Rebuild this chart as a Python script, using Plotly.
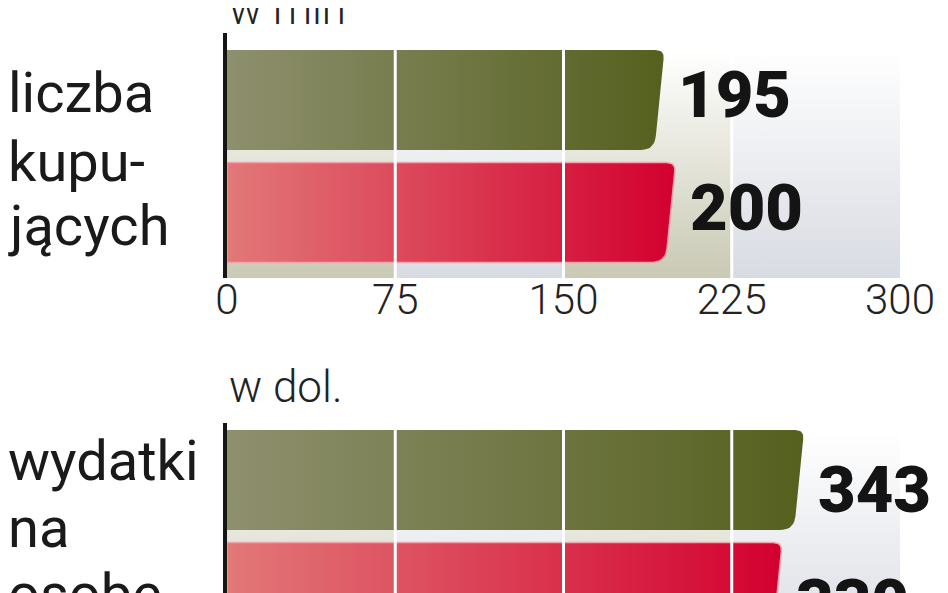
import numpy as np
import plotly.graph_objects as go

# data
top_ticks = [0, 75, 150, 225, 300]
top_values = [195, 200]
top_unit = "w mln"
top_label = ["liczba", "kupu-", "jących"]

bot_ticks = [0, 100, 200, 300, 400]
bot_values = [343, 330]
bot_unit = "w dol."
bot_label = ["wydatki", "na", "osobę"]

olive = ["#8e906e", "#55601e"]
red = ["#e27878", "#d3002f"]
band_cols = ["#c9c9b4", "#d8dbe2"]

# the page body adds an 8px margin, so the figure is that much smaller
OFF = 8
W, H = 948 - OFF, 593 - OFF
PX0, PX1 = 227, 900          # pixel extent of the value axis (screen pixels)
SY = 112.5                   # pixels per y unit
HALF = 0.444                 # half bar thickness (y units)
BG_TOP, BG_BOT = 1 + HALF, -0.582

THIN = "Roboto"
BOLD = "Roboto"


def xpaper(px):
    return (px - OFF) / W


def ypaper(px):
    return 1 - (px - OFF) / H


def rounded_bar(v, yc, sx, slant=10, r_top=9, r_bot=14):
    top = (yc + HALF) * SY
    bot = (yc - HALF) * SY
    P = [np.array([0.0, bot]), np.array([0.0, top]),
         np.array([v * sx, top]), np.array([v * sx - slant, bot])]
    radii = [0, 0, r_top, r_bot]
    out = []
    for i, p in enumerate(P):
        r = radii[i]
        if r == 0:
            out.append(p)
            continue
        a, b = P[i - 1], P[(i + 1) % 4]
        pa = p + r * (a - p) / np.linalg.norm(a - p)
        pb = p + r * (b - p) / np.linalg.norm(b - p)
        for t in np.linspace(0, 1, 10):
            out.append((1 - t) ** 2 * pa + 2 * (1 - t) * t * p + t ** 2 * pb)
    out.append(out[0])
    out = np.array(out)
    return out[:, 0] / sx, out[:, 1] / SY


fig = go.Figure()


def panel(ticks, values, xa, ya):
    sx = (PX1 - PX0) / ticks[-1]
    # background bands
    for i in range(len(ticks) - 1):
        fig.add_trace(go.Scatter(
            x=[ticks[i], ticks[i + 1], ticks[i + 1], ticks[i], ticks[i]],
            y=[BG_BOT, BG_BOT, BG_TOP, BG_TOP, BG_BOT],
            fill="toself", mode="lines", line=dict(width=0),
            fillgradient=dict(type="vertical", start=BG_BOT, stop=BG_TOP,
                              colorscale=[[0, band_cols[i % 2]], [1, "#ffffff"]]),
            xaxis=xa, yaxis=ya, hoverinfo="skip", showlegend=False))
    # bars
    for k, v in enumerate(values):
        yc = 1 - k
        bx, by = rounded_bar(v, yc, sx)
        cols = olive if k == 0 else red
        fig.add_trace(go.Scatter(
            x=bx, y=by, fill="toself", mode="lines",
            line=dict(width=1.5 if k else 0, color="#f3a3ab"),
            fillgradient=dict(type="horizontal", start=0, stop=v,
                              colorscale=[[0, cols[0]], [1, cols[1]]]),
            xaxis=xa, yaxis=ya, hoverinfo="skip", showlegend=False))
    # white grid lines over the bars
    gx, gy = [], []
    for t in ticks[1:-1]:
        gx += [t, t, None]
        gy += [BG_BOT, BG_TOP, None]
    fig.add_trace(go.Scatter(x=gx, y=gy, mode="lines",
                             line=dict(color="#ffffff", width=3),
                             xaxis=xa, yaxis=ya, hoverinfo="skip", showlegend=False))


panel(top_ticks, top_values, "x", "y")
panel(bot_ticks, bot_values, "x2", "y2")

xdom = [xpaper(PX0), xpaper(PX1)]
fig.update_layout(
    width=W, height=H, margin=dict(l=0, r=0, t=0, b=0, autoexpand=False),
    paper_bgcolor="white", plot_bgcolor="rgba(0,0,0,0)",
    xaxis=dict(domain=xdom, range=[0, top_ticks[-1]], tickvals=top_ticks,
               ticktext=[str(t) for t in top_ticks], ticks="", showgrid=False,
               zeroline=False, showline=False, automargin=False, ticklabelstandoff=-7,
               tickfont=dict(family=THIN, size=42, color="#222222", weight=300)),
    yaxis=dict(domain=[ypaper(278), ypaper(33)], range=[-0.582, 1.596],
               showticklabels=False, showgrid=False, zeroline=False, automargin=False,
               showline=True, linecolor="#151515", linewidth=4),
    xaxis2=dict(domain=xdom, range=[0, bot_ticks[-1]], anchor="y2", automargin=False,
                showticklabels=False, ticks="", showgrid=False,
                zeroline=False, showline=False),
    yaxis2=dict(domain=[0, ypaper(423)], range=[1 + (480 - 593) / SY, 1 + (480 - 423) / SY],
                anchor="x2", showticklabels=False, showgrid=False, zeroline=False,
                automargin=False, showline=True, linecolor="#151515", linewidth=4),
)

ann = []
# unit captions
ann.append(dict(text=top_unit, x=xpaper(PX0), y=ypaper(9), xref="paper", yref="paper",
                xanchor="left", yanchor="middle", showarrow=False,
                font=dict(family=THIN, size=44, color="#222222", weight=300)))
ann.append(dict(text=bot_unit, x=xpaper(PX0), y=ypaper(387), xref="paper", yref="paper",
                xanchor="left", yanchor="middle", showarrow=False,
                font=dict(family=THIN, size=44, color="#222222", weight=300)))
# row labels
for lines, centers in [(top_label, [93, 162, 226]), (bot_label, [461, 528, 594])]:
    for txt, c in zip(lines, centers):
        ann.append(dict(text=txt, x=xpaper(6), y=ypaper(c), xref="paper", yref="paper",
                        xanchor="left", yanchor="middle", showarrow=False,
                        font=dict(family="Roboto", size=56, color="#1a1a1a")))
# value labels
for values, xr, yr, ysh in [(top_values, "x", "y", 5), (bot_values, "x2", "y2", -10)]:
    for k, v in enumerate(values):
        ann.append(dict(text=str(v), x=v, y=1 - k, xref=xr, yref=yr,
                        xanchor="left", yanchor="middle", xshift=12, yshift=ysh,
                        showarrow=False,
                        font=dict(family=BOLD, size=65, color="#141414", weight=900)))
fig.update_layout(annotations=ann)

fig.write_html("out.html")
